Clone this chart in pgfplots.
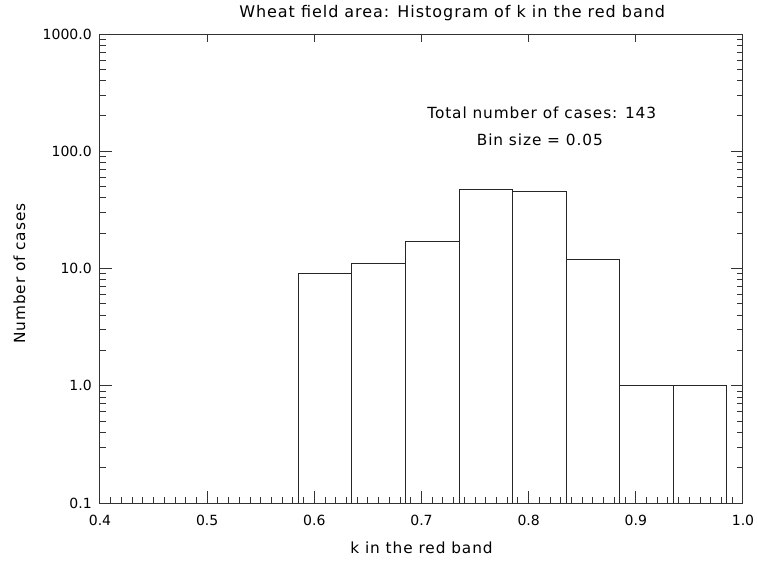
\documentclass[border=0pt]{standalone}
\usepackage{pgfplots}
\pgfplotsset{compat=1.18}
\usepackage{fontspec}
\setmainfont{DejaVu Sans}[LetterSpace=6]
\newfontfamily\tickfont{DejaVu Sans}

\begin{document}
\begin{tikzpicture}[font=\fontsize{11.5}{13}\selectfont]
  % fixed page frame around the plot box
  \path[use as bounding box] (-75pt,-44.25pt) rectangle (493.5pt,377.25pt);

  \begin{axis}[
    at={(0,0)}, anchor=south west,
    scale only axis, width=482.25pt, height=351.75pt,
    xmin=0.4, xmax=1.0,
    ymin=0.1, ymax=1000,
    ymode=log, log origin y=infty,
    axis line style={line width=0.75pt, black!80},
    every tick/.style={line width=0.75pt, black!80},
    tick align=inside,
    major tick length=9pt, minor tick length=4.5pt,
    xtick pos=bottom,
    xtick={0.4,0.5,0.6,0.7,0.8,0.9,1.0},
    xticklabels={0.4,0.5,0.6,0.7,0.8,0.9,1.0},
    minor x tick num=9,
    ytick={0.1,1,10,100,1000},
    yticklabels={0.1,1.0,10.0,100.0,1000.0},
    minor ytick={0.2,0.3,0.4,0.5,0.6,0.7,0.8,0.9,
                 2,3,4,5,6,7,8,9,
                 20,30,40,50,60,70,80,90,
                 200,300,400,500,600,700,800,900},
    ytick pos=both,
    tick label style={font=\tickfont\fontsize{10.5}{12}\selectfont},
    xticklabel style={anchor=base, inner sep=0pt, yshift=-17pt},
    yticklabel style={anchor=east, inner sep=0pt, xshift=-6pt},
    every axis title shift=0pt,
    title={Wheat field area: Histogram of k in the red band},
    title style={at={(axis description cs:0.5,1)}, anchor=base, inner sep=0pt,
                 xshift=23pt, yshift=12.5pt, font=\fontsize{12}{14}\selectfont},
    xlabel={k in the red band},
    xlabel style={at={(axis description cs:0.5,0)}, anchor=base, inner sep=0pt,
                  yshift=-38pt},
    ylabel={Number of cases},
    ylabel style={at={(axis description cs:-0.1252,0.489)}, anchor=center,
                  inner sep=0pt},
  ]
    % histogram, bin size 0.05 (left bin edges; last point closes the final bin)
    \addplot[ybar interval, draw=black!85, line width=0.75pt, fill=none]
      coordinates {(0.585,9) (0.635,11) (0.685,17) (0.735,47) (0.785,45)
                   (0.835,12) (0.885,1) (0.935,1) (0.985,1)};

    \node at (rel axis cs:0.687,0.832) {Total number of cases: 143};
    \node at (rel axis cs:0.684,0.774) {Bin size = 0.05};
  \end{axis}

  % top axis: major ticks only
  \begin{axis}[
    at={(0,0)}, anchor=south west,
    scale only axis, width=482.25pt, height=351.75pt,
    xmin=0.4, xmax=1.0, ymin=0.1, ymax=1000, ymode=log,
    axis line style={line width=0.75pt, black!80},
    every tick/.style={line width=0.75pt, black!80},
    tick align=inside, major tick length=6pt,
    xtick pos=top,
    xtick={0.4,0.5,0.6,0.7,0.8,0.9,1.0},
    xticklabels={},
    ytick=\empty,
  ]
  \end{axis}
\end{tikzpicture}
\end{document}
